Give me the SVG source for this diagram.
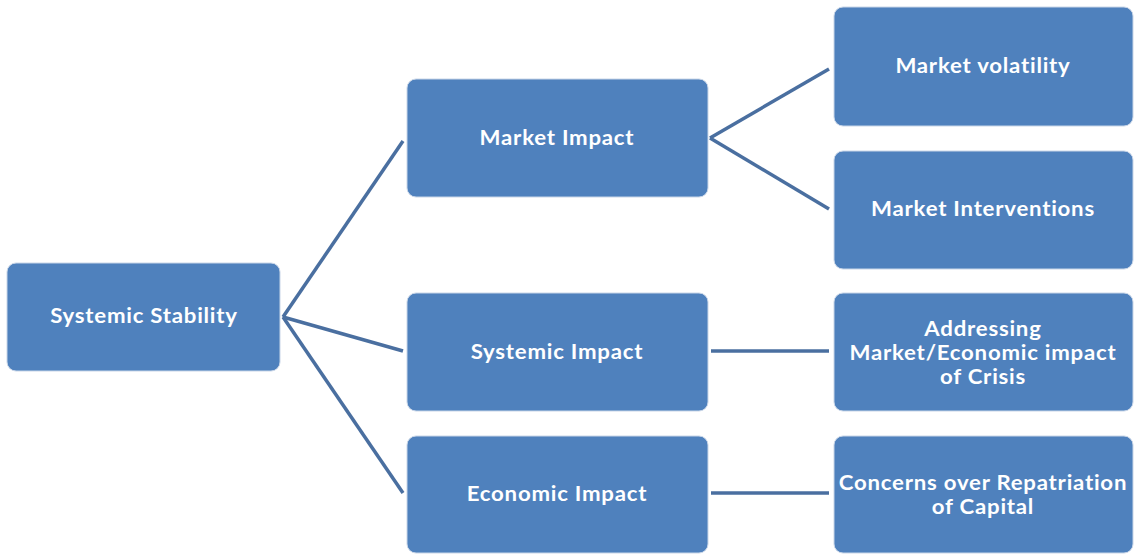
<svg xmlns="http://www.w3.org/2000/svg" width="1134" height="556" viewBox="0 0 1134 556">
<style>
.box{fill:#4F81BD;stroke:#c9d6e8;stroke-width:1}
.lbl{fill:#ffffff;font-family:Lato,"Open Sans","Liberation Sans",sans-serif;font-size:20px;font-weight:700;letter-spacing:0.7px;text-anchor:middle;dominant-baseline:central}
.con{stroke:#4A6FA0;stroke-width:3.5;fill:none}
</style>
<rect width="1134" height="556" fill="#ffffff"/>
<g id="connectors">
<line class="con" x1="283" y1="317" x2="403" y2="141"/>
<line class="con" x1="283" y1="317" x2="403" y2="351"/>
<line class="con" x1="283" y1="317" x2="403" y2="493"/>
<line class="con" x1="710" y1="138" x2="829" y2="69"/>
<line class="con" x1="710" y1="138" x2="829" y2="209"/>
<line class="con" x1="711" y1="351" x2="829" y2="351"/>
<line class="con" x1="711" y1="493" x2="829" y2="493"/>
</g>
<g id="systemic-stability"><rect class="box" x="7" y="263" width="273" height="108" rx="9"/><text class="lbl" x="144" y="315" transform="matrix(1.11 0 0 1 -15.84 0)">Systemic Stability</text></g>
<g id="market-impact"><rect class="box" x="407" y="79" width="301" height="118" rx="9"/><text class="lbl" x="557" y="137" transform="matrix(1.11 0 0 1 -61.27 0)">Market Impact</text></g>
<g id="systemic-impact"><rect class="box" x="407" y="293" width="301" height="118" rx="9"/><text class="lbl" x="557" y="351" transform="matrix(1.11 0 0 1 -61.27 0)">Systemic Impact</text></g>
<g id="economic-impact"><rect class="box" x="407" y="436" width="301" height="117" rx="9"/><text class="lbl" x="557" y="493" transform="matrix(1.11 0 0 1 -61.27 0)">Economic Impact</text></g>
<g id="market-volatility"><rect class="box" x="834" y="7" width="299" height="119" rx="9"/><text class="lbl" x="983" y="65" transform="matrix(1.11 0 0 1 -108.13 0)">Market volatility</text></g>
<g id="market-interventions"><rect class="box" x="834" y="151" width="299" height="118" rx="9"/><text class="lbl" x="983" y="208" transform="matrix(1.11 0 0 1 -108.13 0)">Market Interventions</text></g>
<g id="addressing"><rect class="box" x="834" y="293" width="299" height="118" rx="9"/><text class="lbl" transform="matrix(1.11 0 0 1 -108.13 0)"><tspan x="983" y="327">Addressing</tspan><tspan x="983" y="351">Market/Economic impact</tspan><tspan x="983" y="375">of Crisis</tspan></text></g>
<g id="concerns"><rect class="box" x="834" y="436" width="299" height="117" rx="9"/><text class="lbl" transform="matrix(1.11 0 0 1 -108.13 0)"><tspan x="983" y="481">Concerns over Repatriation</tspan><tspan x="983" y="505">of Capital</tspan></text></g>
</svg>
